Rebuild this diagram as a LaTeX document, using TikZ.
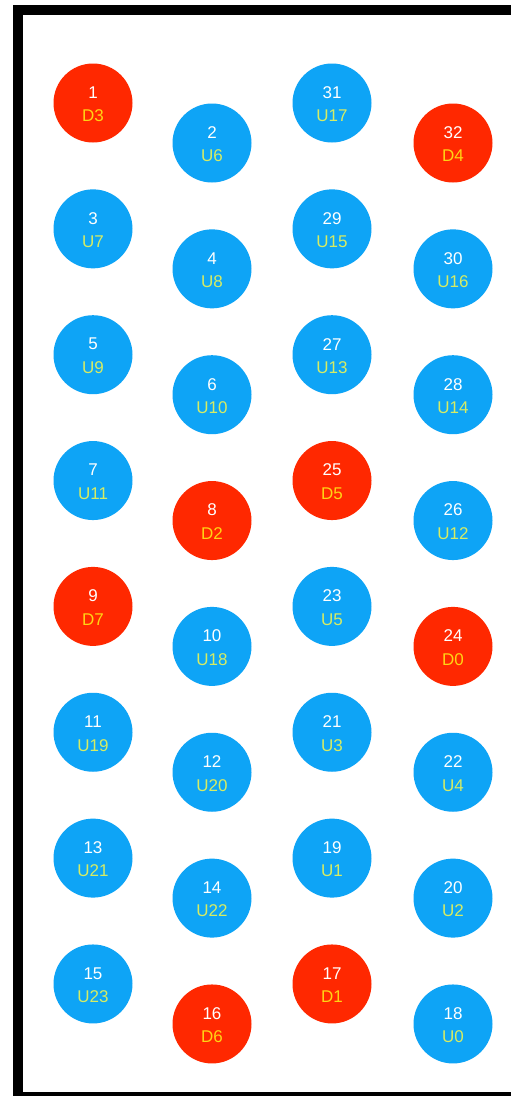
\documentclass[tikz,border=0pt]{standalone}
\usepackage{fontspec}
\setmainfont{Liberation Sans}
\definecolor{cblue}{RGB}{14,164,246}
\definecolor{cred}{RGB}{255,40,0}
\definecolor{dyel}{RGB}{255,212,20}
\definecolor{uyel}{RGB}{214,236,100}
\tikzset{
  ball/.style={circle,inner sep=0pt,minimum size=79pt,draw=none},
  numtxt/.style={inner sep=0pt,text=white,font=\fontsize{17}{17}\selectfont},
  labtxt/.style={inner sep=0pt,font=\fontsize{17}{17}\selectfont}
}
\begin{document}
\begin{tikzpicture}[x=1pt,y=-1pt]
\useasboundingbox (0,0) rectangle (511,1096);
\fill[white] (0,0) rectangle (511,1096);
\begin{scope}
\clip (0,0) rectangle (511,1096);
\draw[line width=10pt,black] (17.5,10) rectangle (530,1097);
\end{scope}
\foreach \n/\l/\c/\t/\x/\k/\yb in {
 1/D3/cred/dyel/93/0/103, 3/U7/cblue/uyel/93/1/103, 5/U9/cblue/uyel/93/2/103, 7/U11/cblue/uyel/93/3/103,
 9/D7/cred/dyel/93/4/103, 11/U19/cblue/uyel/93/5/103, 13/U21/cblue/uyel/93/6/103, 15/U23/cblue/uyel/93/7/103,
 2/U6/cblue/uyel/212/0/143, 4/U8/cblue/uyel/212/1/143, 6/U10/cblue/uyel/212/2/143, 8/D2/cred/dyel/212/3/143,
 10/U18/cblue/uyel/212/4/143, 12/U20/cblue/uyel/212/5/143, 14/U22/cblue/uyel/212/6/143, 16/D6/cred/dyel/212/7/143,
 31/U17/cblue/uyel/332/0/103, 29/U15/cblue/uyel/332/1/103, 27/U13/cblue/uyel/332/2/103, 25/D5/cred/dyel/332/3/103,
 23/U5/cblue/uyel/332/4/103, 21/U3/cblue/uyel/332/5/103, 19/U1/cblue/uyel/332/6/103, 17/D1/cred/dyel/332/7/103,
 32/D4/cred/dyel/453/0/143, 30/U16/cblue/uyel/453/1/143, 28/U14/cblue/uyel/453/2/143, 26/U12/cblue/uyel/453/3/143,
 24/D0/cred/dyel/453/4/143, 22/U4/cblue/uyel/453/5/143, 20/U2/cblue/uyel/453/6/143, 18/U0/cblue/uyel/453/7/143}
{
  \pgfmathsetmacro{\yy}{\yb+125.85*\k}
  \node[ball,fill=\c] (b\n) at (\x,\yy) {};
  \node[numtxt] (n\n) at ([yshift=10.5pt]b\n.center) {\n};
  \node[labtxt,text=\t] (l\n) at ([yshift=-13pt]b\n.center) {\l};
}
\end{tikzpicture}
\end{document}
